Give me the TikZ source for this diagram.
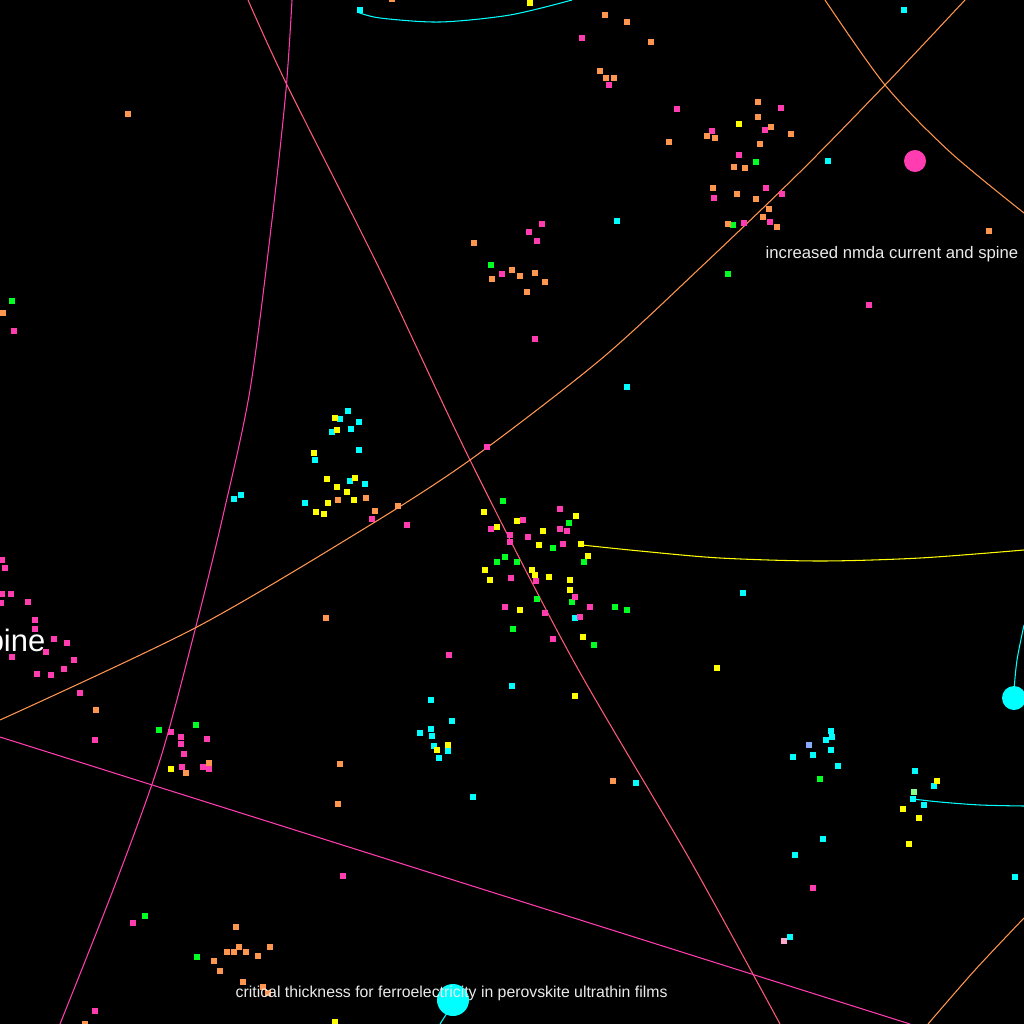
\documentclass[tikz,border=0pt]{standalone}
\usepackage{fontspec}
\setmainfont{Liberation Sans}
\usepackage{tikz}
\definecolor{dotcyan}{RGB}{0,255,255}
\definecolor{dotyellow}{RGB}{255,255,0}
\definecolor{dotgreen}{RGB}{0,255,34}
\definecolor{dotpink}{RGB}{255,61,176}
\definecolor{dotorange}{RGB}{255,150,80}
\definecolor{dotlblue}{RGB}{136,170,255}
\definecolor{dotlgreen}{RGB}{136,255,136}
\definecolor{dotlpink}{RGB}{255,170,204}
\definecolor{linkred}{RGB}{255,90,120}
\definecolor{labgrey}{RGB}{235,235,235}
\tikzset{
  link/.style={line width=0.3pt,smooth},
  pinklink/.style={link,draw=dotpink},
  redlink/.style={link,draw=linkred},
  orangelink/.style={link,draw=dotorange},
  yellowlink/.style={link,draw=dotyellow},
  cyanlink/.style={link,draw=dotcyan},
  lab/.style={text=labgrey,inner sep=0pt,font=\fontsize{4.75pt}{5pt}\selectfont},
  biglab/.style={text=white,inner sep=0pt,font=\fontsize{8.8pt}{9pt}\selectfont}
}
\newcommand{\termdots}[2]{\foreach \px/\py in {#2} \fill[#1] (\px-2.8,\py-2.8) rectangle ++(5.6,5.6);}

\begin{document}
\begin{tikzpicture}[x=0.01cm,y=-0.01cm]
  \useasboundingbox (0,0) rectangle (1024,1024);
  \fill[black] (0,0) rectangle (1024,1024);
  \clip (0,0) rectangle (1024,1024);

  % links
  \draw[redlink] plot coordinates {(248,0) (287,85) (380,270) (470,460) (573,660) (690,860) (780,1024)};
  \draw[pinklink] plot coordinates {(292,0) (286,90) (272,220) (250,390) (222,520) (195,630) (160,760) (115,885) (60,1024)};
  \draw[pinklink] (0,737) -- (910,1024);
  \draw[orangelink] plot coordinates {(0,720) (195,628) (362,530) (470,460) (600,360) (700,268) (800,172) (885,85) (965,0)};
  \draw[orangelink] plot coordinates {(825,0) (885,85) (950,152) (1024,213)};
  \draw[orangelink] plot coordinates {(928,1024) (975,970) (1024,918)};
  \draw[yellowlink] plot coordinates {(582,545) (640,551) (720,558) (820,561) (920,558) (1024,550)};
  \draw[cyanlink] plot coordinates {(357,12) (380,18) (440,22) (510,15) (572,0)};
  \draw[cyanlink] plot coordinates {(913,799) (940,802) (980,805) (1024,806)};
  \draw[cyanlink] plot coordinates {(1014,690) (1017,660) (1024,625)};
  \draw[cyanlink] (449,1010) -- (440,1024);

  % dots
  \termdots{dotcyan}{360/10,904/10,828/161,617/221,627/387,348/411,340/419,359/422,332/432,351/429,359/450,315/460,350/481,365/484,305/503,234/499,241/495,575/618,743/593,512/686,431/700,452/721,420/733,431/729,432/736,434/746,448/751,439/758,473/797,636/783,831/731,832/737,826/740,831/750,813/755,793/757,838/766,915/771,934/786,913/799,924/805,823/839,795/855,790/937,1015/877}
  \termdots{dotyellow}{530/3,739/124,335/418,337/430,314/453,327/479,355/478,337/487,347/492,328/503,354/500,316/512,324/514,484/512,576/516,517/521,497/527,543/531,539/545,581/544,588/556,485/570,532/570,535/575,549/577,570/580,490/580,570/590,520/610,583/637,717/668,575/696,448/745,437/750,171/769,937/781,903/809,919/818,909/844,335/1022}
  \termdots{dotgreen}{12/301,756/162,733/225,728/274,491/265,503/501,569/523,553/548,505/557,497/562,517/562,584/562,572/602,537/599,615/607,627/610,513/629,594/645,159/730,196/725,820/779,145/916,197/957}
  \termdots{dotpink}{582/38,609/85,677/109,781/108,712/131,765/130,739/155,766/188,782/194,714/198,744/223,770/222,869/305,542/224,529/232,537/241,502/274,535/339,14/331,487/447,372/519,407/525,560/509,523/520,491/529,510/535,560/529,567/531,528/537,510/542,563/544,511/578,536/581,575/597,590/607,505/607,545/613,580/617,553/639,449/655,2/560,5/568,2/594,11/594,1/603,28/602,35/620,35/629,54/639,67/643,46/652,12/657,74/660,64/669,37/674,51/675,80/693,95/740,171/732,181/737,181/744,207/739,184/754,182/767,203/767,209/769,343/876,813/888,133/923,95/1011}
  \termdots{dotorange}{392/-1,605/15,627/22,651/42,600/71,606/78,614/78,128/114,758/102,758/117,707/136,715/138,771/127,791/134,760/144,669/142,734/167,745/168,713/188,737/194,756/199,769/209,763/217,728/224,777/227,989/231,474/243,512/270,535/273,520/276,492/279,545/282,527/292,3/313,338/500,366/498,375/511,398/506,326/618,96/710,186/773,209/763,340/764,338/804,613/781,236/927,227/952,234/952,239/947,246/952,270/947,258/956,214/961,220/971,243/982,263/987,268/993,85/1024}
  \termdots{dotlblue}{809/745}
  \termdots{dotlgreen}{914/792}
  \termdots{dotlpink}{784/941}

  % hubs
  \fill[dotpink] (915,161) circle[radius=0.11cm];
  \fill[dotcyan] (1014,698) circle[radius=0.12cm];
  \fill[dotcyan] (453,1000) circle[radius=0.16cm];

  % labels
  \node[lab,anchor=base west] (nmda) at (765,258) {increased nmda current and spine};
  \node[lab,anchor=base west,font=\fontsize{4.5pt}{5pt}\selectfont] (ferro) at (235,997) {critical thickness for ferroelectricity in perovskite ultrathin films};
  \node[biglab,anchor=base east] (spine) at (46,651) {spine};
\end{tikzpicture}
\end{document}
